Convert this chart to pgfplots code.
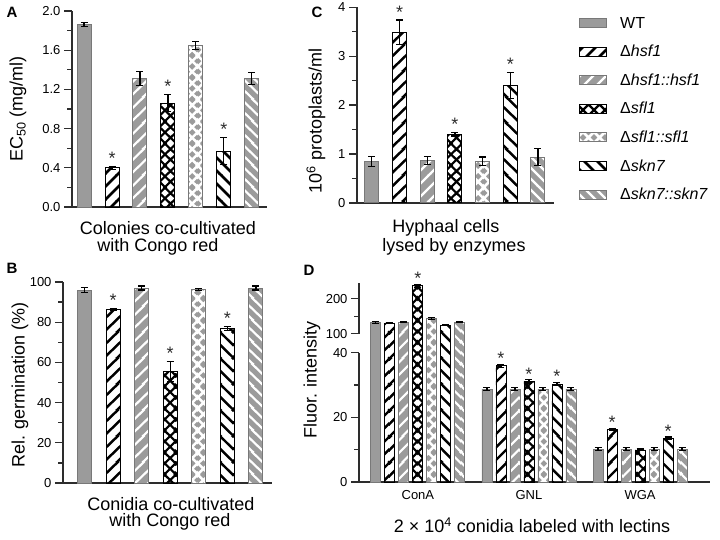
\documentclass[border=0pt]{standalone}
\usepackage{fontspec}
\setmainfont{Liberation Sans}
\usepackage{pgfplots}
\usepackage{pgfplotstable}
\pgfplotsset{compat=1.18}
\usetikzlibrary{patterns}

\definecolor{barGray}{RGB}{155,155,155}
\definecolor{edgeGray}{RGB}{120,120,120}
\definecolor{axGray}{RGB}{45,45,45}

\newcommand\lab{\fontsize{18}{20}\selectfont}
\newcommand\tkf{\fontsize{13}{14}\selectfont}

% hatch lines for a tile of two periods: p, 2p, 3p, 4p, 5p
\newcommand\pNE[5]{%
  \pgfpathmoveto{\pgfpoint{-#1pt}{-#3pt}}\pgfpathlineto{\pgfpoint{#3pt}{#1pt}}%
  \pgfpathmoveto{\pgfpoint{-#1pt}{-#2pt}}\pgfpathlineto{\pgfpoint{#3pt}{#2pt}}%
  \pgfpathmoveto{\pgfpoint{-#1pt}{-#1pt}}\pgfpathlineto{\pgfpoint{#3pt}{#3pt}}%
  \pgfpathmoveto{\pgfpoint{-#1pt}{0pt}}\pgfpathlineto{\pgfpoint{#3pt}{#4pt}}%
  \pgfpathmoveto{\pgfpoint{-#1pt}{#1pt}}\pgfpathlineto{\pgfpoint{#3pt}{#5pt}}}
\newcommand\pNW[5]{%
  \pgfpathmoveto{\pgfpoint{-#1pt}{#1pt}}\pgfpathlineto{\pgfpoint{#3pt}{-#3pt}}%
  \pgfpathmoveto{\pgfpoint{-#1pt}{#2pt}}\pgfpathlineto{\pgfpoint{#3pt}{-#2pt}}%
  \pgfpathmoveto{\pgfpoint{-#1pt}{#3pt}}\pgfpathlineto{\pgfpoint{#3pt}{-#1pt}}%
  \pgfpathmoveto{\pgfpoint{-#1pt}{#4pt}}\pgfpathlineto{\pgfpoint{#3pt}{0pt}}%
  \pgfpathmoveto{\pgfpoint{-#1pt}{#5pt}}\pgfpathlineto{\pgfpoint{#3pt}{#1pt}}}
% name, line colour, line width, tile size (2p), paths
\newcommand\mkpat[5]{%
  \pgfdeclarepatterninherentlycolored{#1}{\pgfpointorigin}{\pgfpoint{#4pt}{#4pt}}{\pgfpoint{#4pt}{#4pt}}{%
    \pgfsetstrokecolor{#2}\pgfsetlinewidth{#3pt}#5\pgfusepath{stroke}}}
\mkpat{BkNE}{black}{2.5}{26}{\pNE{13}{26}{39}{52}{65}}
\mkpat{WNE}{white}{2.2}{26}{\pNE{13}{26}{39}{52}{65}}
\mkpat{BkX}{black}{2.2}{22}{\pNE{11}{22}{33}{44}{55}\pNW{11}{22}{33}{44}{55}}
\mkpat{WX}{white}{2.6}{22}{\pNE{11}{22}{33}{44}{55}\pNW{11}{22}{33}{44}{55}}
\mkpat{BkNW}{black}{2.5}{26}{\pNW{13}{26}{39}{52}{65}}
\mkpat{WNW}{white}{2.2}{22}{\pNW{11}{22}{33}{44}{55}}

\pgfplotsset{
  base/.style={scale only axis, anchor=south west, axis lines=left,
    axis line style={axGray, line width=1.3pt, -}, clip=false, xtick=\empty,
    tick style={axGray, line width=1.3pt}, major tick length=8pt, minor tick length=5pt,
    tick align=outside, minor y tick num=1, ticklabel style={font=\tkf},
    /pgf/number format/assume math mode=true},
  sWT/.style={fill=barGray, draw=edgeGray},
  sHsf/.style={pattern=BkNE, draw=black},
  sHsfC/.style={fill=barGray, draw=edgeGray, postaction={pattern=WNE}},
  sSfl/.style={pattern=BkX, draw=black},
  sSflC/.style={fill=barGray, draw=edgeGray, postaction={pattern=WX}},
  sSkn/.style={pattern=BkNW, draw=black},
  sSknC/.style={fill=barGray, draw=edgeGray, postaction={pattern=WNW}},
  errs/.style={error bars/y dir=both, error bars/y explicit,
    error bars/error bar style={line width=1.1pt, black},
    error bars/error mark options={rotate=90, mark size=3.5pt, line width=1.1pt, black}},
  bplot/.style={ybar, bar width=14pt, line width=1pt, errs},
  star/.style={draw=none, mark=none, forget plot, nodes near coords={*},
    every node near coord/.append style={font=\fontsize{18}{18}\selectfont, text=axGray,
      anchor=base, inner sep=0pt, yshift=2pt}},
}

% panel D data: group (ConA, GNL, WGA), value, error, mark
\pgfplotstableread{
x y e s
0 133.5 0.3 {}
1 28.7 0.4 {}
2 10.2 0.4 {}
}\dWT
\pgfplotstableread{
x y e s
0 131 0.2 {}
1 35.9 0.5 *
2 16.2 0.4 *
}\dHsf
\pgfplotstableread{
x y e s
0 133.5 0.2 {}
1 28.7 0.4 {}
2 10.2 0.4 {}
}\dHsfC
\pgfplotstableread{
x y e s
0 237 0.4 *
1 31.1 0.5 *
2 9.9 0.3 {}
}\dSfl
\pgfplotstableread{
x y e s
0 144 0.3 {}
1 28.7 0.4 {}
2 10.2 0.4 {}
}\dSflC
\pgfplotstableread{
x y e s
0 125 0.2 {}
1 30.3 0.4 *
2 13.5 0.4 *
}\dSkn
\pgfplotstableread{
x y e s
0 133.5 0.2 {}
1 28.7 0.4 {}
2 10.2 0.4 {}
}\dSknC

\begin{document}
\begin{tikzpicture}
\useasboundingbox (0pt,0pt) rectangle (720pt,539pt);

% ---------- A ----------
\begin{axis}[base, at={(72pt,332pt)}, width=195pt, height=196pt,
  xmin=-0.43, xmax=6.54, ymin=0, ymax=2,
  ytick={0,0.4,0.8,1.2,1.6,2.0},
  yticklabel style={/pgf/number format/.cd, fixed, fixed zerofill, precision=1}]
\addplot[bplot, sWT]   coordinates {(0,1.86) +- (0,0.02)};
\addplot[bplot, sHsf]  coordinates {(1,0.40) +- (0,0.015)};
\addplot[bplot, sHsfC] coordinates {(2,1.31) +- (0,0.07)};
\addplot[bplot, sSfl]  coordinates {(3,1.06) +- (0,0.09)};
\addplot[bplot, sSflC] coordinates {(4,1.65) +- (0,0.04)};
\addplot[bplot, sSkn]  coordinates {(5,0.57) +- (0,0.14)};
\addplot[bplot, sSknC] coordinates {(6,1.31) +- (0,0.06)};
\addplot[star] coordinates {(1,0.415) (3,1.15) (5,0.71)};
\end{axis}

% ---------- B ----------
\begin{axis}[base, at={(63pt,56pt)}, width=209pt, height=201pt,
  xmin=-0.75, xmax=6.56, ymin=0, ymax=100,
  ytick={0,20,40,60,80,100}]
\addplot[bplot, sWT]   coordinates {(0,96) +- (0,1.2)};
\addplot[bplot, sHsf]  coordinates {(1,86.4) +- (0,0.5)};
\addplot[bplot, sHsfC] coordinates {(2,97) +- (0,1)};
\addplot[bplot, sSfl]  coordinates {(3,55.4) +- (0,5)};
\addplot[bplot, sSflC] coordinates {(4,96.2) +- (0,0.4)};
\addplot[bplot, sSkn]  coordinates {(5,76.8) +- (0,1)};
\addplot[bplot, sSknC] coordinates {(6,97) +- (0,1)};
\addplot[star] coordinates {(1,87) (3,60.4) (5,77.8)};
\end{axis}

% ---------- C ----------
\begin{axis}[base, at={(357pt,336pt)}, width=197pt, height=195.7pt,
  xmin=-0.54, xmax=6.58, ymin=0, ymax=4, ytick={0,1,2,3,4},
  legend style={at={(1.127,0.951)}, anchor=north west, draw=none, fill=none,
    inner sep=0pt, row sep=15.5pt, column sep=13pt,
    font=\fontsize{16}{16}\selectfont, nodes={inner sep=0pt}},
  legend cell align=left,
  legend image code/.code={\draw[#1, line width=1pt] (0pt,-4.5pt) rectangle (27pt,4.5pt);}]
\addplot[bplot, sWT]   coordinates {(0,0.85) +- (0,0.1)};
\addlegendentry{WT}
\addplot[bplot, sHsf]  coordinates {(1,3.49) +- (0,0.25)};
\addlegendentry{Δ\textit{hsf1}}
\addplot[bplot, sHsfC] coordinates {(2,0.87) +- (0,0.08)};
\addlegendentry{Δ\textit{hsf1::hsf1}}
\addplot[bplot, sSfl]  coordinates {(3,1.41) +- (0,0.04)};
\addlegendentry{Δ\textit{sfl1}}
\addplot[bplot, sSflC] coordinates {(4,0.85) +- (0,0.09)};
\addlegendentry{Δ\textit{sfl1::sfl1}}
\addplot[bplot, sSkn]  coordinates {(5,2.40) +- (0,0.27)};
\addlegendentry{Δ\textit{skn7}}
\addplot[bplot, sSknC] coordinates {(6,0.94) +- (0,0.17)};
\addlegendentry{Δ\textit{skn7::skn7}}
\addplot[star] coordinates {(1,3.74) (3,1.45) (5,2.67)};
\end{axis}

% ---------- D (broken y axis) ----------
\begin{axis}[base, at={(359pt,57pt)}, width=351pt, height=199pt,
  xmin=-0.53, xmax=2.63, ymin=0, ymax=245,
  y coord trafo/.code={\pgfmathparse{#1<40.5 ? #1 : 45.8+(#1-100)*0.1084}},
  y coord inv trafo/.code={\pgfmathparse{#1<40.5 ? #1 : 100+(#1-45.8)/0.1084}},
  ytick={0,20,40,100,200}, yticklabels={0,20,40,100,200},
  minor y tick num=0, minor ytick={10,30,150},
  xtick={0,1,2}, xticklabels={ConA,GNL,WGA}, major x tick style={draw=none},
  xticklabel style={yshift=3pt},
  y axis line style={draw=none},
  ybar=4pt, bar width=10pt]
\pgfplotsset{dbar/.style={line width=0.8pt, point meta=explicit symbolic, nodes near coords,
  every node near coord/.append style={font=\fontsize{18}{18}\selectfont, text=axGray,
    anchor=base, inner sep=0pt, yshift=1pt}, errs}}
\addplot[dbar, sWT]   table[x=x, y=y, y error=e, meta=s] {\dWT};
\addplot[dbar, sHsf]  table[x=x, y=y, y error=e, meta=s] {\dHsf};
\addplot[dbar, sHsfC] table[x=x, y=y, y error=e, meta=s] {\dHsfC};
\addplot[dbar, sSfl]  table[x=x, y=y, y error=e, meta=s] {\dSfl};
\addplot[dbar, sSflC] table[x=x, y=y, y error=e, meta=s] {\dSflC};
\addplot[dbar, sSkn]  table[x=x, y=y, y error=e, meta=s] {\dSkn};
\addplot[dbar, sSknC] table[x=x, y=y, y error=e, meta=s] {\dSknC};
\draw[axGray, line width=1.3pt] (axis cs:-0.53,0) -- (axis cs:-0.53,40);
\draw[axGray, line width=1.3pt] (axis cs:-0.53,100) -- (axis cs:-0.53,245);
\end{axis}

% labels
\node[rotate=90, font=\lab] at (18pt,430pt) {EC\textsubscript{50} (mg/ml)};
\node[rotate=90, font=\lab] at (20pt,154pt) {Rel. germination (\%)};
\node[rotate=90, font=\lab] at (316pt,418pt) {10\textsuperscript{6} protoplasts/ml};
\node[rotate=90, font=\lab] at (312pt,159pt) {Fluor. intensity};

\begin{scope}[every node/.style={font=\lab, inner sep=0pt}]
\node at (168pt,311pt) {Colonies co-cultivated};
\node at (158pt,292pt) {with Congo red};
\node at (171pt,35pt) {Conidia co-cultivated};
\node at (170pt,17pt) {with Congo red};
\node at (446pt,311pt) {Hyphaal cells};
\node at (454pt,292pt) {lysed by enzymes};
\node at (532pt,14pt) {2 × 10\textsuperscript{4} conidia labeled with lectins};
\end{scope}

\node[font=\fontsize{15}{15}\selectfont\bfseries] at (12pt,527pt) {A};
\node[font=\fontsize{15}{15}\selectfont\bfseries] at (12pt,271pt) {B};
\node[font=\fontsize{15}{15}\selectfont\bfseries] at (317pt,527pt) {C};
\node[font=\fontsize{15}{15}\selectfont\bfseries] at (309pt,269pt) {D};
\end{tikzpicture}
\end{document}
